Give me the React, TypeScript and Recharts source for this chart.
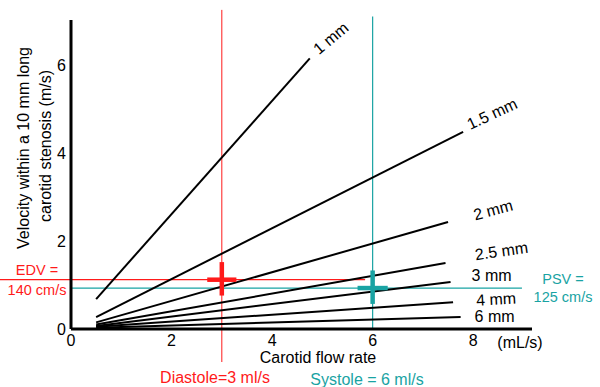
import React from 'react';
import { LineChart, Line, XAxis, YAxis, ReferenceLine } from 'recharts';

// axis ticks
const flowTicks = [0, 2, 4, 6, 8];
const velocityTicks = [0, 2, 4, 6];

// one line per stenosis diameter (flow mL/s -> velocity m/s)
const stenosisNames = ['1 mm', '1.5 mm', '2 mm', '2.5 mm', '3 mm', '4 mm', '6 mm'];
const flowStart = [0.5, 0.5, 0.5, 0.5, 0.5, 0.5, 0.5];
const flowEnd = [4.75, 7.8, 7.5, 7.45, 7.55, 7.6, 7.75];
const velocityStart = [0.68, 0.27, 0.15, 0.1, 0.07, 0.05, 0.03];
const velocityEnd = [6.15, 4.48, 2.43, 1.5, 1.07, 0.61, 0.27];

// diastole / systole markers
const diastoleFlow = 3;
const systoleFlow = 6;
const edvLevel = 1.12;
const psvLevel = 0.93;

const RED = '#ff1a1a';
const TEAL = '#19a3a3';
const FONT = '"Liberation Sans", Arial, sans-serif';

// label offset from the line end: dx, dy, rotation
const labelPlacement: [number, number, number][] = [
  [21, -20, -40],
  [29, -18, -25],
  [45, -12, -15],
  [56, -12, -8],
  [41, -6, 0],
  [43, -3, -3],
  [34, -1, 0],
];

const series = stenosisNames.map((name, i) => ({
  name,
  data: [
    { flow: flowStart[i], velocity: velocityStart[i] },
    { flow: flowEnd[i], velocity: velocityEnd[i] },
  ],
}));

const endLabel = (i: number) => (props: any) => {
  const { x, y, index } = props;
  if (index !== 1) return null;
  const [dx, dy, rot] = labelPlacement[i];
  const cx = x + dx;
  const cy = y + dy;
  return (
    <text
      x={cx}
      y={cy}
      textAnchor="middle"
      dominantBaseline="central"
      fontSize={16}
      fontFamily={FONT}
      fill="#000"
      transform={`rotate(${rot} ${cx} ${cy})`}
    >
      {stenosisNames[i]}
    </text>
  );
};

const txt = (x: number, y: number, s: string, color: string, size = 15) => (
  <text
    x={x}
    y={y}
    textAnchor="middle"
    dominantBaseline="central"
    fontSize={size}
    fontFamily={FONT}
    fill={color}
  >
    {s}
  </text>
);

export default function App() {
  return (
    <div style={{ position: 'absolute', left: 0, top: 0, width: 600, height: 387, background: '#fff' }}>
      <LineChart
        width={600}
        height={387}
        margin={{ top: 20, right: 68, bottom: 28, left: 41 }}
      >
        <XAxis
          type="number"
          dataKey="flow"
          domain={[0, 9.17]}
          ticks={flowTicks}
          allowDataOverflow
          stroke="#000"
          strokeWidth={3}
          tickLine={false}
          tickSize={0}
          tickMargin={6}
          height={30}
          tick={{ fill: '#000', fontSize: 16, fontFamily: FONT }}
        />
        <YAxis
          type="number"
          dataKey="velocity"
          domain={[0, 7.02]}
          ticks={velocityTicks}
          allowDataOverflow
          stroke="#000"
          strokeWidth={3}
          tickLine={false}
          tickSize={0}
          tickMargin={5}
          width={30}
          tick={{ fill: '#000', fontSize: 16, fontFamily: FONT }}
        />
        <ReferenceLine
          segment={[{ x: diastoleFlow, y: 7.25 }, { x: diastoleFlow, y: -0.75 }]}
          stroke={RED}
          strokeWidth={1}
          ifOverflow="visible"
        />
        <ReferenceLine
          segment={[{ x: systoleFlow, y: 7.1 }, { x: systoleFlow, y: 0 }]}
          stroke={TEAL}
          strokeWidth={1.2}
          ifOverflow="visible"
        />
        <ReferenceLine
          segment={[{ x: -1.42, y: edvLevel }, { x: 5.85, y: edvLevel }]}
          stroke={RED}
          strokeWidth={1.2}
          ifOverflow="visible"
        />
        <ReferenceLine
          segment={[{ x: 0, y: psvLevel }, { x: 8.97, y: psvLevel }]}
          stroke={TEAL}
          strokeWidth={1.2}
          ifOverflow="visible"
        />
        {series.map((s, i) => (
          <Line
            key={s.name}
            data={s.data}
            dataKey="velocity"
            name={s.name}
            type="linear"
            stroke="#000"
            strokeWidth={2}
            dot={false}
            activeDot={false}
            label={endLabel(i)}
            isAnimationActive={false}
          />
        ))}
        {/* crosses */}
        <ReferenceLine
          segment={[{ x: diastoleFlow, y: edvLevel + 0.4 }, { x: diastoleFlow, y: edvLevel - 0.36 }]}
          stroke={RED}
          strokeWidth={4.5}
          ifOverflow="visible"
        />
        <ReferenceLine
          segment={[{ x: diastoleFlow - 0.29, y: edvLevel }, { x: diastoleFlow + 0.29, y: edvLevel }]}
          stroke={RED}
          strokeWidth={4.5}
          ifOverflow="visible"
        />
        <ReferenceLine
          segment={[{ x: systoleFlow, y: psvLevel + 0.4 }, { x: systoleFlow, y: psvLevel - 0.36 }]}
          stroke={TEAL}
          strokeWidth={4.5}
          ifOverflow="visible"
        />
        <ReferenceLine
          segment={[{ x: systoleFlow - 0.3, y: psvLevel }, { x: systoleFlow + 0.3, y: psvLevel }]}
          stroke={TEAL}
          strokeWidth={4.5}
          ifOverflow="visible"
        />
      </LineChart>
      <svg
        width={600}
        height={387}
        style={{ position: 'absolute', left: 0, top: 0, pointerEvents: 'none' }}
      >
        <g transform="rotate(-90 23 148)">{txt(23, 148, 'Velocity within a 10 mm long', '#000', 16)}</g>
        <g transform="rotate(-90 45 146)">{txt(45, 146, 'carotid stenosis (m/s)', '#000', 16)}</g>
        {txt(318, 357, 'Carotid flow rate', '#000', 16)}
        {txt(520, 342, '(mL/s)', '#000', 16)}
        {txt(215, 377, 'Diastole=3 ml/s', RED, 16)}
        {txt(367, 379, 'Systole = 6 ml/s', TEAL, 16)}
        {txt(37, 270, 'EDV =', RED, 14.5)}
        {txt(37, 290, '140 cm/s', RED, 14.5)}
        {txt(563, 279, 'PSV =', TEAL, 14.5)}
        {txt(563, 297, '125 cm/s', TEAL, 14.5)}
      </svg>
    </div>
  );
}
